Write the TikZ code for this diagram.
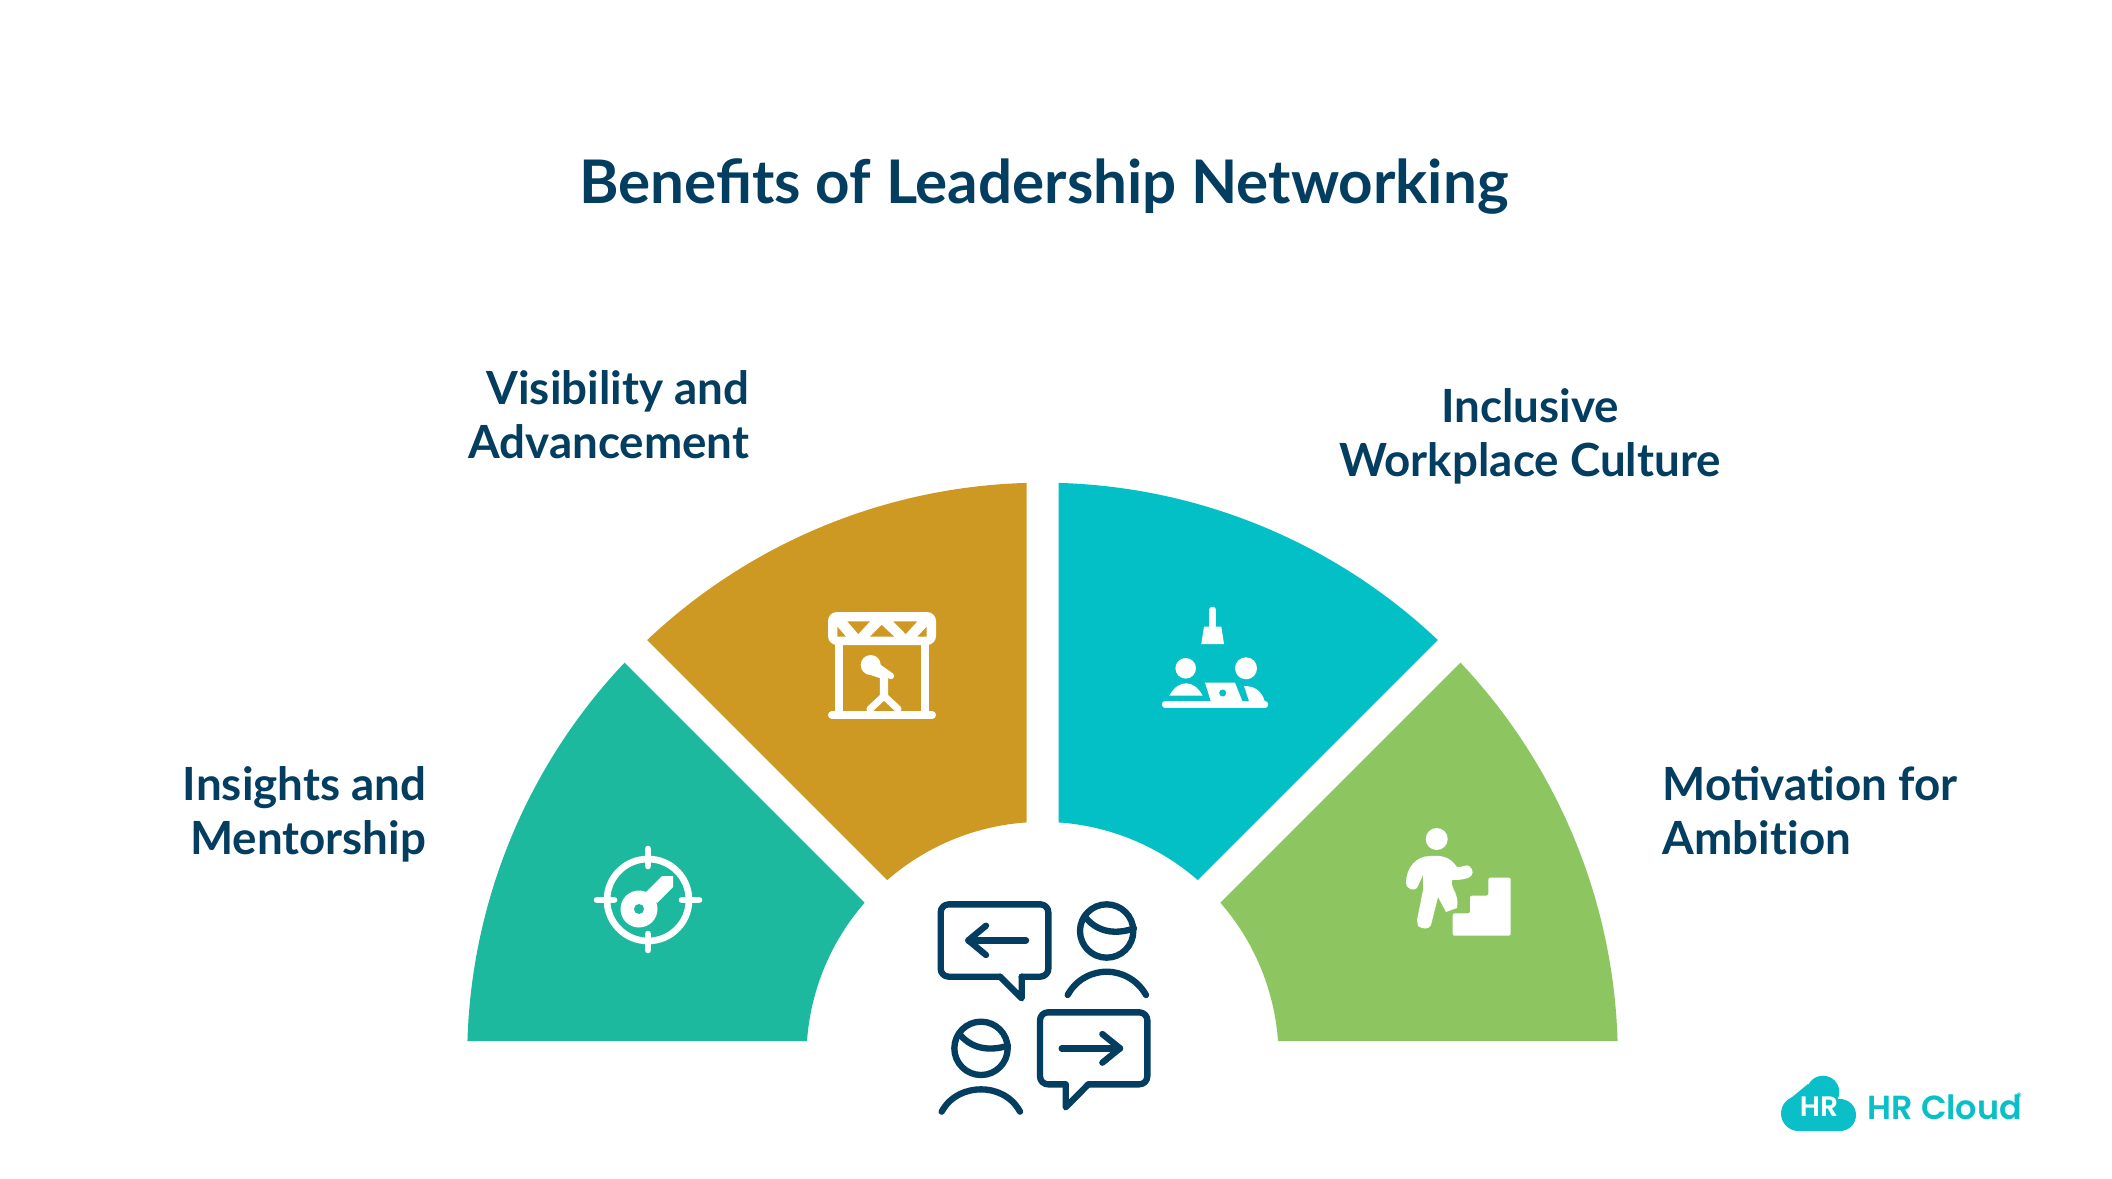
\documentclass[tikz,border=0pt]{standalone}
\usepackage{fontspec}
\setmainfont{Lato}
\newfontfamily\logofont{Poppins SemiBold}
\usepackage{xcolor}
\definecolor{navy}{HTML}{033D60}
\definecolor{sectorgreen}{HTML}{8DC660}
\definecolor{sectorcyan}{HTML}{03BFC6}
\definecolor{sectortan}{HTML}{CE9923}
\definecolor{sectorteal}{HTML}{1CB99F}
\definecolor{logocyan}{HTML}{0BBFC9}
\tikzset{
  titletext/.style={text=navy,inner sep=0pt,font=\fontsize{17.1}{20.5}\selectfont\bfseries},
  labeltext/.style={text=navy,inner sep=0pt,font=\fontsize{13}{15.36}\selectfont\bfseries},
  whiteline/.style={draw=white,line width=1.9pt,line cap=round,line join=round},
  peopleline/.style={draw=navy,line width=1.8pt,line cap=round,line join=round}
}
\begin{document}
\begin{tikzpicture}[x=0.01cm,y=-0.01cm]
\useasboundingbox (0,0) rectangle (2112,1179);
\fill[white] (0,0) rectangle (2112,1179);
\node[titletext] (title) at (1044,187) {Benefits of Leadership Networking};
\node[labeltext,align=right,anchor=east] (visibility) at (750,415) {Visibility and\\Advancement};
\node[labeltext,align=center] (inclusive) at (1530,436) {Inclusive\\Workplace Culture};
\node[labeltext,align=right,anchor=east] (insights) at (427,814) {Insights and\\Mentorship};
\node[labeltext,align=left,anchor=west] (motivation) at (1662,811) {Motivat\kern0pt ion for\\Ambit\kern0pt ion};
\begin{scope}[shift={(1042.5,1058)}]
\foreach \sectorcolor/\a/\b/\ga/\gb in {sectorgreen/0/45/17/16,sectorcyan/45/90/16/16,sectortan/90/135/16/16,sectorteal/135/180/16/17}{
  \pgfmathsetmacro{\oa}{\a+asin(\ga/575)}
  \pgfmathsetmacro{\ob}{\b-asin(\gb/575)}
  \pgfmathsetmacro{\ia}{\a+asin(\ga/236)}
  \pgfmathsetmacro{\ib}{\b-asin(\gb/236)}
  \fill[\sectorcolor] (\oa:5.75cm) arc[start angle=\oa,end angle=\ob,radius=5.75cm] -- (\ib:2.36cm) arc[start angle=\ib,end angle=\ia,radius=2.36cm] -- cycle;
}
\end{scope}
% target
\draw[whiteline,line width=1.9pt] (648,900) circle[radius=41];
\foreach \xa/\ya/\xb/\yb in {597/900/614/900,682/900/699/900,648/849/648/866,648/934/648/950}{
  \draw[whiteline] (\xa,\ya) -- (\xb,\yb);
}
\fill[white] (639,909) circle[radius=18.5];
\fill[white] (646,892) -- (662,876) -- (673,876) -- (673,887) -- (657,903) -- cycle;
\fill[sectorteal] (639,909) circle[radius=5];
% stage
\fill[white,rounded corners=0.09cm] (828,612) rectangle (936,645);
\fill[sectortan] (847.3,621.3) -- (870,621.3) -- (858.3,634) -- cycle;
\fill[sectortan] (870,636.7) -- (881.7,625) -- (894.3,636.7) -- cycle;
\fill[sectortan] (893.3,621.3) -- (917.3,621.3) -- (905.7,634) -- cycle;
\fill[sectortan] (837.3,626.7) -- (846,636.7) -- (837.3,636.7) -- cycle;
\fill[sectortan] (926.7,626.7) -- (917.3,636.7) -- (926.7,636.7) -- cycle;
\fill[white] (835,640) rectangle (843.3,715);
\fill[white] (920.5,640) rectangle (929,715);
\draw[whiteline,line width=2.3pt] (832,715) -- (932,715);
\fill[white] (870.7,665) circle[radius=10];
\draw[whiteline,line width=1.8pt] (874,664) -- (891,676);
\draw[whiteline,line width=2.4pt,line cap=butt] (872,671) -- (884,675) -- (884,695);
\draw[whiteline,line width=2pt] (870,709) -- (884,696) -- (898,709);
% meeting
\draw[whiteline,line width=1.9pt] (1212.7,610) -- (1212.7,628);
\fill[white] (1204,626.7) -- (1221.3,626.7) -- (1224,644) -- (1201.3,644) -- cycle;
\fill[white] (1185.7,668.3) circle[radius=10.3];
\fill[white] (1246,668.3) circle[radius=11];
\fill[white] (1169.3,695.7) .. controls (1174,687) and (1180,683.3) .. (1186,683.3) .. controls (1192,683.3) and (1198,687) .. (1202.7,695.7) -- cycle;
\draw[whiteline,line width=1.8pt] (1165,704.5) -- (1265,704.5);
\fill[white] (1205,682.7) -- (1235,682.7) -- (1242.3,701) -- (1210.7,701) -- cycle;
\fill[sectorcyan] (1222.7,693) circle[radius=3.5];
\fill[white] (1244,686) .. controls (1256,686) and (1262,692) .. (1265,702) -- (1249.3,702) -- cycle;
% climber
\fill[white] (1436.7,839) circle[radius=11];
\fill[white,rounded corners=0.02cm] (1452.7,913.3) -- (1470,913.3) -- (1470,895.7) -- (1488.3,895.7) -- (1488.3,877.7) -- (1510.7,877.7) -- (1510.7,935.7) -- (1452.7,935.7) -- cycle;
\fill[white] (1406,883) .. controls (1406,868) and (1416,856) .. (1430,856) .. controls (1442,855) and (1450,857) .. (1457,867) .. controls (1461,868) and (1466,864) .. (1469,866) .. controls (1474,869) and (1474,876) .. (1468,878) .. controls (1462,880) and (1456,880) .. (1452,880) .. controls (1450,885) and (1456,892) .. (1457,898) .. controls (1458,902) and (1457,905) .. (1457,908) -- (1446,912) -- (1438,897) -- (1431,925) .. controls (1429,930) and (1422,929) .. (1418,926) -- (1417,920) -- (1423,890) -- (1423,875) -- (1417,888) .. controls (1414,891) and (1407,890) .. (1406,883) -- cycle;
% people
\begin{scope}[shift={(900,880)},scale=1/3]
\draw[peopleline,rounded corners=0.08cm] (300,290) -- (122,290) -- (122,73) -- (445,73) -- (445,290) -- (365,290);
\draw[peopleline] (300,290) -- (365,355) -- (365,290);
\draw[peopleline] (378,181) -- (205,181);
\draw[peopleline] (258,137) -- (205,181) -- (258,225);
\draw[peopleline] (620,153) circle[radius=80];
\draw[peopleline] (556,112) .. controls (600,165) and (660,160) .. (702,145);
\draw[peopleline] (503,345) .. controls (530,295) and (580,275) .. (620,275) .. controls (660,275) and (710,295) .. (738,345);
\draw[peopleline] (243,505) circle[radius=80];
\draw[peopleline] (178,462) .. controls (222,515) and (282,510) .. (324,497);
\draw[peopleline] (125,695) .. controls (152,645) and (203,628) .. (243,628) .. controls (283,628) and (333,645) .. (360,695);
\draw[peopleline,rounded corners=0.08cm] (497,613) -- (420,613) -- (420,397) -- (742,397) -- (742,613) -- (565,613);
\draw[peopleline] (565,613) -- (497,682) -- (497,613);
\draw[peopleline] (485,505) -- (660,505);
\draw[peopleline] (607,462) -- (660,505) -- (607,548);
\end{scope}
% logo
\fill[logocyan] (1798.5,1113.5) circle[radius=17.5];
\fill[logocyan] (1840,1115) circle[radius=16];
\fill[logocyan] (1823,1092) circle[radius=16.3];
\fill[logocyan] (1798,1100) rectangle (1840,1131);
\fill[logocyan] (1786,1102) -- (1808,1084) -- (1830,1100) -- cycle;
\node[text=white,font=\logofont\fontsize{8}{10}\selectfont,inner sep=0pt] (logohr) at (1819,1107) {HR};
\node[text=logocyan,font=\logofont\fontsize{9.5}{12}\selectfont,anchor=west,inner sep=0pt] (logoname) at (1867,1107) {HR Cloud};
\node[text=logocyan,font=\logofont\fontsize{3}{4}\selectfont,inner sep=0pt] (logomark) at (2019,1097) {®};
\end{tikzpicture}
\end{document}
